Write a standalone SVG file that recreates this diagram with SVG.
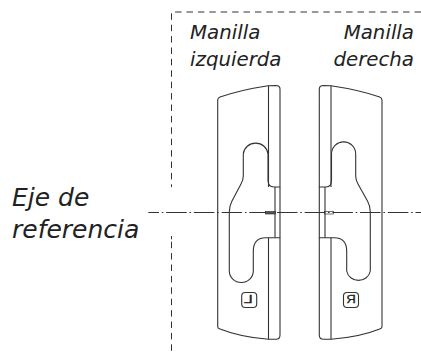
<svg xmlns="http://www.w3.org/2000/svg" width="421" height="356" viewBox="0 0 421 356">
<style>
text{font-family:"DejaVu Sans",sans-serif;font-style:italic;fill:#222}
.l{font-size:19.800px}.b{font-size:25px}
.h{fill:none;stroke:#333;stroke-width:1.1}
.t{fill:#555;stroke:#222;stroke-width:.6}
.d{fill:none;stroke:#333;stroke-width:1;stroke-dasharray:6.500 4.900}
.c{fill:none;stroke:#333;stroke-width:1;stroke-dasharray:20.500 2.800 1.600 2.800;stroke-dashoffset:9.800}
.m{font-size:10px;font-style:normal;font-family:"Liberation Sans",sans-serif;text-anchor:middle;stroke:#222;stroke-width:.3}
</style>
<g id="connectors">
<path class="d" d="M421 12H171.500V187"/>
<path class="d" d="M171.500 236V239.300M171.500 241.700V355"/>
<path class="c" d="M148.300 212.500H421"/>
</g>
<g id="manilla-izquierda">
<path class="h" d="M217.700 326.700V100Q217.700 98 220 97Q240 90 268 85.700L276 85.500Q280 85.500 280 89V187H274Q268 187 268 180V154A12.400 12 0 0 0 243.300 154V176Q243.300 180 241 184L232 201Q229.300 206 229.300 212V271A12 11.500 0 0 0 253.300 271V251Q253.300 237.700 266 237.700H280V335Q280 339.300 276 339.300H268.500Q240 337 220 329Q217.700 328.500 217.700 326.700Z"/>
<path class="h" d="M268.500 85.700V187M268.500 237.700V339.300M275 187V237.700M280 187V237.700"/>
<rect class="t" x="265.500" y="211.500" width="10" height="2.500"/>
<rect class="h" x="241.700" y="292.500" width="15" height="15" rx="3.500"/>
<text class="m" transform="translate(248.200 303.300) scale(-1.600 1)">L</text>
</g>
<g id="manilla-derecha">
<path class="h" d="M382 326.700V100Q382 98 379.700 97Q360 90 331 85.700L323.500 85.500Q319.300 85.500 319.300 89V187H326Q331.500 187 331.500 180V154A12 12 0 0 1 355.700 154V176Q355.700 180 358 184L367.500 201Q370.300 206 370.300 212V271A12 11.500 0 0 1 346.700 271V251Q346.700 237.700 334 237.700H319.300V335Q319.300 339.300 323.500 339.300H331Q360 337 379.700 329Q382 328.500 382 326.700Z"/>
<path class="h" d="M331 85.700V187M331 237.700V339.300M325 187V237.700M319.300 187V237.700"/>
<rect class="h" x="324.500" y="211.500" width="9" height="2.500" style="stroke-width:.7"/>
<rect class="h" x="343.500" y="292.500" width="15" height="15" rx="3.500"/>
<text class="m" transform="translate(351 303.300) scale(-1.300 1)">R</text>
</g>
<g id="etiquetas">
<text class="l" x="190" y="38.500">Manilla</text>
<text class="l" x="190" y="66">izquierda</text>
<text class="l" x="414" y="38.500" text-anchor="end">Manilla</text>
<text class="l" x="414" y="66" text-anchor="end">derecha</text>
<text class="b" x="12" y="206">Eje de</text>
<text class="b" x="12" y="238">referencia</text>
</g>
</svg>
